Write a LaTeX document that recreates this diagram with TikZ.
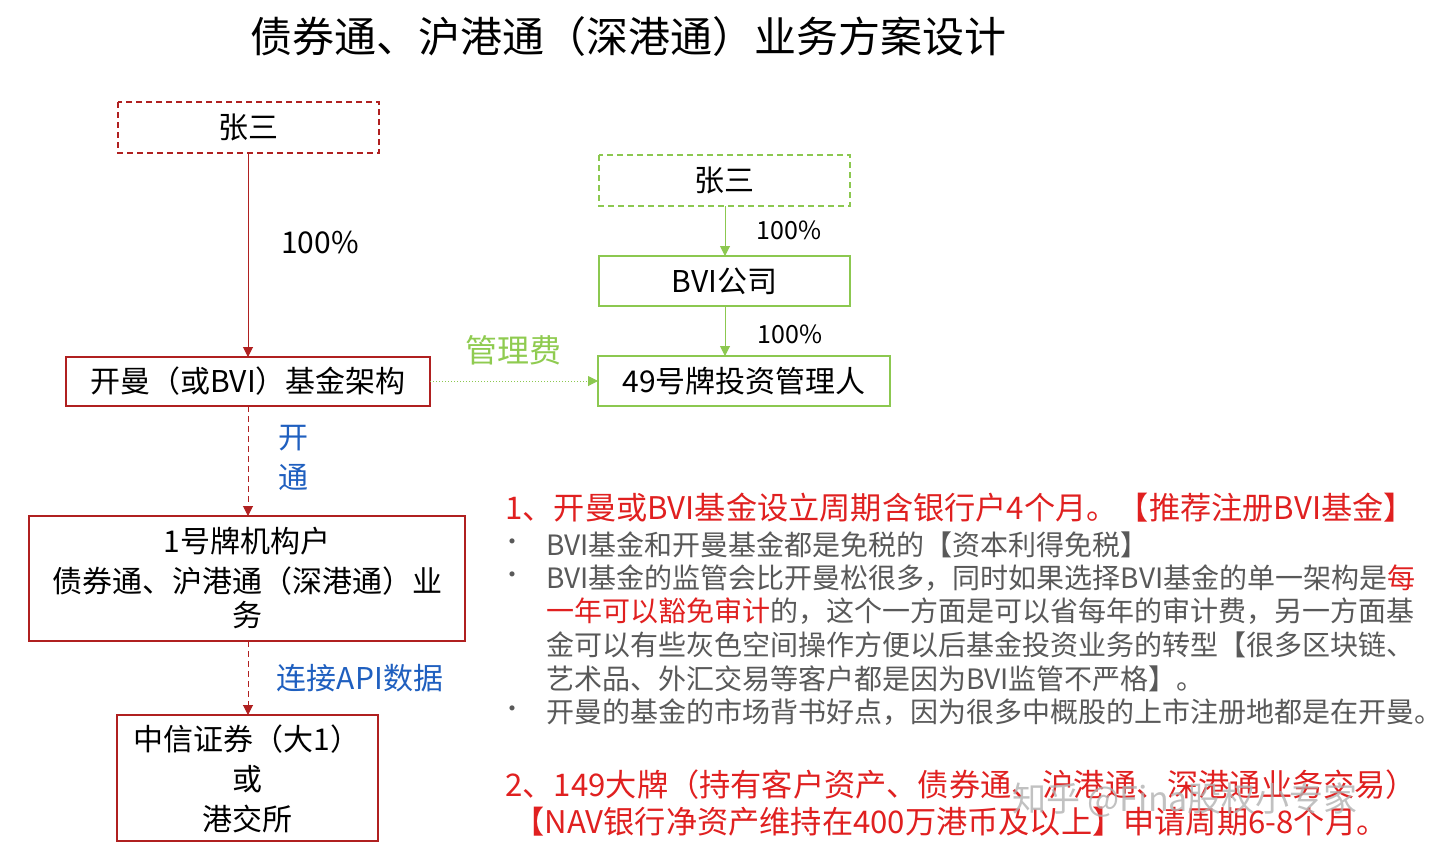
\documentclass[tikz,border=0pt]{standalone}
\usepackage{fontspec}
\setmainfont{Noto Sans CJK SC}
\usetikzlibrary{arrows.meta}
\definecolor{dred}{HTML}{B02020}
\definecolor{tred}{HTML}{E02020}
\definecolor{grn}{HTML}{8CC850}
\definecolor{tgrn}{HTML}{8FCB50}
\definecolor{blu}{HTML}{1F5FBF}
\definecolor{gry}{HTML}{595959}
\tikzset{
 redbox/.style={draw=dred,line width=0.7pt,inner sep=0pt},
 grnbox/.style={draw=grn,line width=0.7pt,inner sep=0pt},
 bt/.style={font=\fontsize{15pt}{18pt}\selectfont,text=black},
 lt/.style={font=\fontsize{14pt}{16pt}\selectfont,anchor=west,inner sep=0pt},
 rt/.style={font=\fontsize{15.6pt}{18pt}\selectfont,anchor=west,inner sep=0pt,text=tred},
 rarr/.style={draw=dred,line width=0.5pt,-{Triangle[length=5pt,width=5pt]}},
 garr/.style={draw=grn,line width=0.5pt,-{Triangle[length=5pt,width=5pt]}},
}
\begin{document}
\begin{tikzpicture}[x=0.5pt,y=-0.5pt]
\useasboundingbox (0,0) rectangle (1440,858);
\node[font=\fontsize{21pt}{26pt}\selectfont] (title) at (628,37) {债券通、沪港通（深港通）业务方案设计};
% left column
\draw[redbox,densely dashed] (118,102) rectangle (379,153);
\node[bt] (z1) at (248.5,127.5) {张三};
\coordinate (z1b) at (248,153);
\draw[redbox] (66,357) rectangle (430,406);
\node[bt] (km) at (248,381.5) {开曼（或BVI）基金架构};
\coordinate (kmt) at (248,357); \coordinate (kmb) at (248,406); \coordinate (kme) at (430,381);
\draw[rarr] (z1b) -- (kmt);
\node[bt] (p1) at (320,242) {100\%};
\draw[redbox] (29,516) rectangle (465,641);
\node[bt,align=center] (h1) at (247,578) {1号牌机构户\\[2pt]债券通、沪港通（深港通）业\\[-1pt]务};
\coordinate (h1t) at (248,516); \coordinate (h1b) at (248,641);
\draw[rarr,densely dashed] (kmb) -- (h1t);
\node[bt,text=blu] (kai) at (293,438) {开};
\node[bt,text=blu] (tong) at (293,477) {通};
\draw[redbox] (117,715) rectangle (378,841);
\node[bt,align=center] (zx) at (247,779) {中信证券（大1）\\[2pt]或\\[2pt]港交所};
\coordinate (zxt) at (248,715);
\draw[rarr,densely dashed] (h1b) -- (zxt);
\node[bt,text=blu] (api) at (360,678) {连接API数据};
% right column
\draw[grnbox,densely dashed] (599,155) rectangle (850,206);
\node[bt] (z2) at (724.5,180.5) {张三};
\draw[grnbox] (599,256) rectangle (850,306);
\node[bt] (bvi) at (724.5,281) {BVI公司};
\draw[grnbox] (598,356) rectangle (890,406);
\node[bt] (m49) at (744,381) {49号牌投资管理人};
\coordinate (z2b) at (725,206); \coordinate (bvit) at (725,256);
\coordinate (bvib) at (725,306); \coordinate (m49t) at (725,356);
\coordinate (m49w) at (598,381);
\draw[garr] (z2b) -- (bvit);
\draw[garr] (bvib) -- (m49t);
\node[font=\fontsize{12.5pt}{15pt}\selectfont] (p2) at (789,230) {100\%};
\node[font=\fontsize{12.5pt}{15pt}\selectfont] (p3) at (790,334) {100\%};
\draw[garr,densely dotted] (kme) -- (m49w);
\node[bt,text=tgrn,font=\fontsize{16pt}{18pt}\selectfont] (fee) at (513,350) {管理费};
% text block
\node[rt] (l1) at (505,508) {1、开曼或BVI基金设立周期含银行户4个月。【推荐注册BVI基金】};
\foreach \y in {545,578,712}{\node[text=gry,font=\fontsize{12pt}{14pt}\selectfont] at (512,\y) {•};}
\node[lt,text=gry] (l2) at (546,545) {BVI基金和开曼基金都是免税的【资本利得免税】};
\node[lt,text=gry] (l3) at (546,578) {BVI基金的监管会比开曼松很多，同时如果选择BVI基金的单一架构是\textcolor{tred}{每}};
\node[lt,text=gry] (l4) at (546,611) {\textcolor{tred}{一年可以豁免审计}的，这个一方面是可以省每年的审计费，另一方面基};
\node[lt,text=gry] (l5) at (546,645) {金可以有些灰色空间操作方便以后基金投资业务的转型【很多区块链、};
\node[lt,text=gry] (l6) at (546,679) {艺术品、外汇交易等客户都是因为BVI监管不严格】。};
\node[lt,text=gry] (l7) at (546,712) {开曼的基金的市场背书好点，因为很多中概股的上市注册地都是在开曼。};
\node[rt] (l8) at (505,785) {2、149大牌（持有客户资产、债券通、沪港通、深港通业务交易）};
\node[rt] (l9) at (513,822) {【NAV银行净资产维持在400万港币及以上】申请周期6-8个月。};
\node[text=gray!60,opacity=0.8,font=\fontsize{17pt}{20pt}\selectfont] (wm) at (1185,800) {知乎 @Fina股权小专家};
\end{tikzpicture}
\end{document}
